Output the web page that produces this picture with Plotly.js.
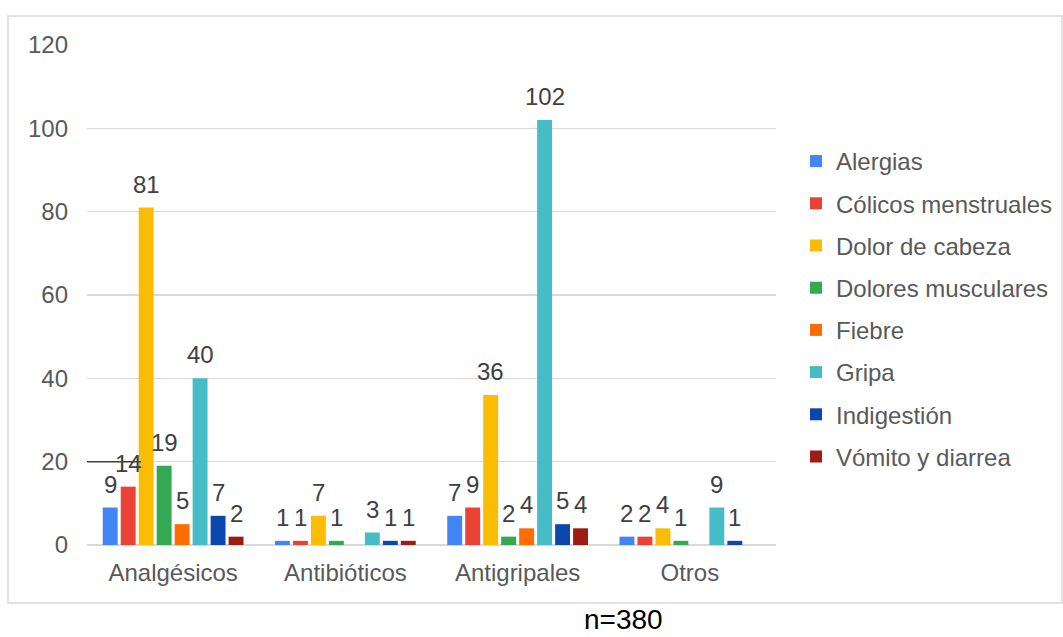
<!DOCTYPE html>
<html>
<head>
<meta charset="utf-8">
<script src="https://cdn.plot.ly/plotly-3.0.1.min.js"></script>
<style>html,body{margin:0;padding:0;background:#fff;}#chart{width:1063px;height:637px;}</style>
</head>
<body>
<div id="chart"></div>
<script>
const categories = ["Analgésicos", "Antibióticos", "Antigripales", "Otros"];
const seriesNames = ["Alergias", "Cólicos menstruales", "Dolor de cabeza", "Dolores musculares", "Fiebre", "Gripa", "Indigestión", "Vómito y diarrea"];
const alergias = [9, 1, 7, 2];
const colicos = [14, 1, 9, 2];
const dolorCabeza = [81, 7, 36, 4];
const doloresMusculares = [19, 1, 2, 1];
const fiebre = [5, null, 4, null];
const gripa = [40, 3, 102, 9];
const indigestion = [7, 1, 5, 1];
const vomito = [2, 1, 4, null];
const seriesValues = [alergias, colicos, dolorCabeza, doloresMusculares, fiebre, gripa, indigestion, vomito];
const colors = ["#4285F4", "#EA4335", "#FBBC04", "#34A853", "#FF6D01", "#46BDC6", "#0B47AE", "#9C1B12"];
const yTicks = [0, 20, 40, 60, 80, 100, 120];
const noteText = "n=380";

const FONT = "Liberation Sans, Arial, sans-serif";
const BARGAP = 0.165;

const traces = seriesNames.map((name, i) => ({
  type: "bar",
  name: name,
  x: categories,
  y: seriesValues[i],
  marker: {color: colors[i]},
  legendgroup: "g" + i,
  hoverinfo: "x+y+name"
}));

// value labels placed over each bar using the category axis scale
const nS = seriesNames.length;
const slot = (1 - BARGAP) / nS;
const labelAnns = [];
seriesValues.forEach((vals, i) => {
  vals.forEach((v, c) => {
    if (v === null) return;
    labelAnns.push({
      x: c - (1 - BARGAP) / 2 + (i + 0.5) * slot,
      y: v, xref: "x", yref: "y",
      text: String(v), showarrow: false,
      xanchor: "center", yanchor: "bottom", yshift: 8,
      font: {family: FONT, size: 24, color: "#404040"}
    });
  });
});

const L = 87, R = 776, T = 45, B = 545, W = 1063, H = 637;
const pw = R - L, ph = B - T;
const px = v => (v - L) / pw;
const py = v => (B - v) / ph;

const layout = {
  width: W, height: H,
  margin: {l: L, r: W - R, t: T, b: H - B, pad: 0, autoexpand: false},
  paper_bgcolor: "#fff",
  plot_bgcolor: "#fff",
  font: {family: FONT, color: "#595959"},
  barmode: "group",
  bargap: BARGAP,
  bargroupgap: 0.17,
  showlegend: true,
  legend: {
    x: px(796), xanchor: "left",
    y: py(139), yanchor: "top",
    font: {family: FONT, size: 24, color: "#595959"},
    tracegroupgap: 8,
    itemwidth: 30,
    bgcolor: "rgba(0,0,0,0)"
  },
  xaxis: {
    type: "category",
    range: [-0.5, 3.5],
    showgrid: false,
    showline: false,
    zeroline: false,
    ticks: "",
    tickfont: {family: FONT, size: 24, color: "#595959"},
    ticklabelstandoff: 11
  },
  yaxis: {
    range: [0, 120],
    tickvals: yTicks,
    ticktext: yTicks.map(String),
    showgrid: true,
    gridcolor: "#D9D9D9",
    gridwidth: 1.5,
    zeroline: true,
    zerolinecolor: "#D9D9D9",
    zerolinewidth: 1.5,
    showline: false,
    ticks: "",
    tickfont: {family: FONT, size: 24, color: "#595959"},
    ticklabelstandoff: 18
  },
  shapes: [
    {type: "rect", xref: "paper", yref: "paper",
     x0: px(8), x1: px(1062), y0: py(603), y1: py(16),
     line: {color: "#D9D9D9", width: 1.5}, fillcolor: "rgba(0,0,0,0)", layer: "below"},
    {type: "line", xref: "paper", yref: "y",
     x0: 0, x1: px(141), y0: 20, y1: 20,
     line: {color: "#404040", width: 1.5}, layer: "above"}
  ],
  annotations: labelAnns.concat([
    {text: noteText, xref: "paper", yref: "paper", x: px(623), y: py(619),
     xanchor: "center", yanchor: "middle", showarrow: false, borderpad: 0,
     font: {family: FONT, size: 28, color: "#000"}}
  ])
};

Plotly.newPlot("chart", traces, layout, {displayModeBar: false, staticPlot: true});
</script>
</body>
</html>
